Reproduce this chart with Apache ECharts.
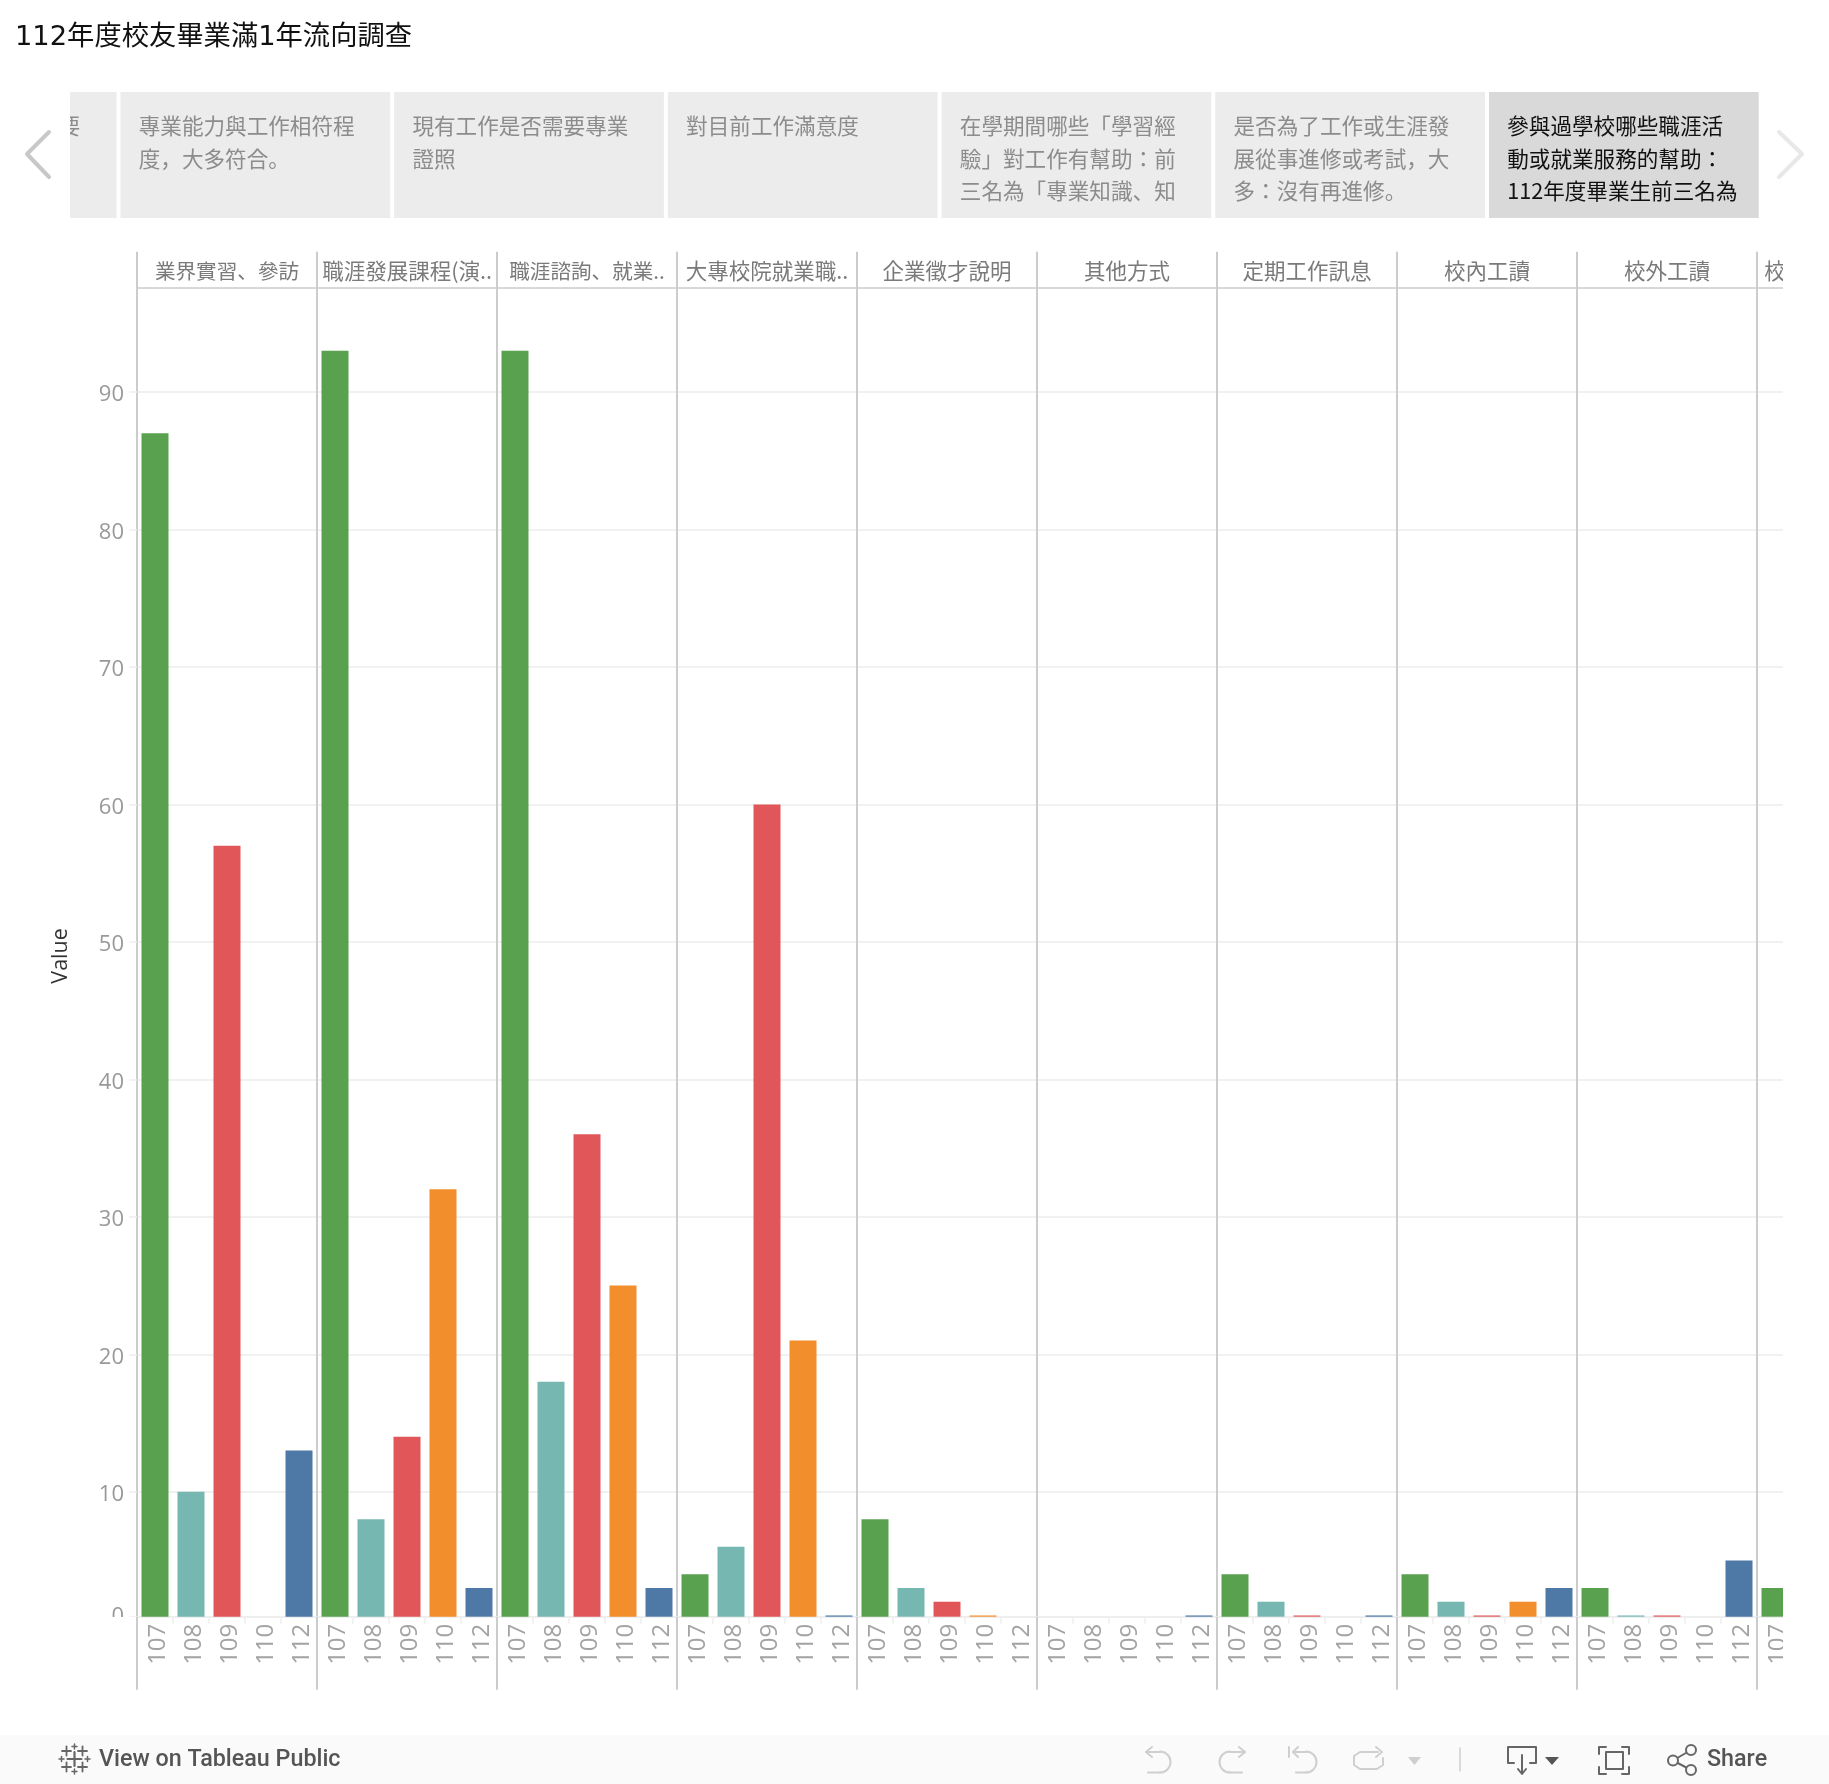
<!DOCTYPE html>
<html><head><meta charset="utf-8">
<style>html,body{margin:0;padding:0;background:#fff}#c{width:1829px;height:1784px}</style>
<script src="https://cdn.jsdelivr.net/npm/echarts@6/dist/echarts.min.js"></script>
</head><body><div id="c"></div>
<script>
const titleText = '112年度校友畢業滿1年流向調查';
const years = ['107','108','109','110','112'];
const panels = ['業界實習、參訪','職涯發展課程(演..','職涯諮詢、就業..','大專校院就業職..','企業徵才說明','其他方式','定期工作訊息','校內工讀','校外工讀','校'];
const values107 = [87,93,93,4,8,null,4,4,3,3];
const values108 = [10,8,18,6,3,null,2,2,1];
const values109 = [57,14,36,60,2,null,1,1,1];
const values110 = [null,32,25,21,1,null,null,2,null];
const values112 = [13,3,3,1,null,1,1,3,5];
const yearValues = [values107,values108,values109,values110,values112];
const yearColors = ['#59a14f','#76b7b2','#e15759','#f28e2b','#4e79a7'];
const yTicks = [10,20,30,40,50,60,70,80,90];
const tabTexts = [
 '要',
 '專業能力與工作相符程\n度，大多符合。',
 '現有工作是否需要專業\n證照',
 '對目前工作滿意度',
 '在學期間哪些「學習經\n驗」對工作有幫助：前\n三名為「專業知識、知',
 '是否為了工作或生涯發\n展從事進修或考試，大\n多：沒有再進修。',
 '參與過學校哪些職涯活\n動或就業服務的幫助：\n112年度畢業生前三名為'
];

const CJK = '"Noto Sans CJK JP","Noto Sans",sans-serif';
const LAT = '"Open Sans","Noto Sans CJK JP",sans-serif';
const yMin = 0.91, yMax = 97.55;   // the reference's pane cuts the axis just above 0

// 46 category slots: 9 full panels of 5 years, then the panel cut off by the scroll edge
const yearCats = [], headCats = [];
panels.forEach((p, i) => {
  const slots = i < panels.length - 1 ? years : years.slice(0, 1);
  slots.forEach((y, k) => {
    yearCats.push(y);
    const centre = slots.length === 1 || k === 2;
    headCats.push(centre ? p : '');
  });
});
const slotOf = (panel, yearIdx) => panel * years.length + yearIdx;
const series = years.map((y, yi) => {
  const d = new Array(yearCats.length).fill(null);
  yearValues[yi].forEach((v, p) => { d[slotOf(p, yi)] = v; });
  return {
    name: y, type: 'bar', data: d, barWidth: 27, barGap: '-100%',
    itemStyle: { color: yearColors[yi] }, clip: true, silent: true
  };
});

const isPanelEdge = i => i % years.length === 0;
const g = [];
// tabs
const tabW = 269.7, tabGap = 4, tabTop = 92, tabH = 126, tabLast = 1489;
tabTexts.forEach((t, i) => {
  const x = tabLast - (tabTexts.length - 1 - i) * (tabW + tabGap);
  const sel = i === tabTexts.length - 1;
  const first = i === 0;
  g.push({ type:'rect', z:10, shape:{x, y:tabTop, width:tabW, height:tabH}, style:{fill: sel ? '#d9d9d9' : '#ececec'} });
  g.push({ type:'text', z:11, x: first ? x+tabW-36.5 : x+18.2, y:tabTop+18, style:{ text:t, align: first ? 'right' : 'left', fill: sel ? '#111' : '#8c8c8c', font:'21.6px '+CJK, lineHeight:32.5 } });
});
g.push({ type:'rect', z:12, shape:{x:0,y:tabTop,width:70,height:tabH}, style:{fill:'#fff'} });
const stroke = (c, w) => ({ stroke:c, lineWidth:w||2, fill:null, lineCap:'round', lineJoin:'round' });
const pl = (pts, c, w) => g.push({ type:'polyline', z:20, shape:{points:pts}, style:stroke(c,w) });
const arc = (cx,cy,r,a,b,c,w) => g.push({ type:'arc', z:20, shape:{cx,cy,r,startAngle:a,endAngle:b,clockwise:true}, style:stroke(c,w) });
pl([[49,132],[27,154],[49,177]], '#c8c8c8', 4);
pl([[1779,132],[1802,154],[1779,177]], '#e8e8e8', 4);
// covers that reproduce the pane clipping
g.push({ type:'rect', z:15, shape:{x:1783,y:245,width:46,height:1450}, style:{fill:'#fff'} });
g.push({ type:'rect', z:15, shape:{x:90,y:1617,width:46,height:30}, style:{fill:'#fff'} });
// footer
g.push({ type:'rect', z:10, shape:{x:0,y:1735,width:1829,height:49}, style:{fill:'#fafafa'} });
g.push({ type:'text', z:20, x:99, y:1760, style:{ text:'View on Tableau Public', fill:'#555', font:'500 23.3px Roboto,sans-serif', verticalAlign:'middle' } });
g.push({ type:'text', z:20, x:1707, y:1760, style:{ text:'Share', fill:'#555', font:'500 23.3px Roboto,sans-serif', verticalAlign:'middle' } });
const cross = (x,y,r,w) => { pl([[x-r,y],[x+r,y]],'#666',w); pl([[x,y-r],[x,y+r]],'#666',w); };
const lx = 74.5, ly = 1759;
cross(lx,ly,7,2.2);
[[-8,-8],[8,-8],[-8,8],[8,8]].forEach(o => cross(lx+o[0],ly+o[1],4.5,1.8));
[[0,-12.5],[0,12.5],[-13,0],[13,0]].forEach(o => cross(lx+o[0],ly+o[1],2.5,1.5));
const HP = Math.PI/2, off = '#cfcfcf', on = '#666';
// undo
pl([[1146,1752],[1160,1752]],off); arc(1160,1762,10.5,-HP,HP,off); pl([[1160,1772.5],[1148,1772.5]],off);
pl([[1152,1747],[1146,1752],[1152,1757]],off);
// redo
pl([[1245,1752],[1230,1752]],off); arc(1230,1762,10.5,HP,-HP,off); pl([[1230,1772.5],[1242,1772.5]],off);
pl([[1239,1747],[1245,1752],[1239,1757]],off);
// revert
pl([[1289,1747],[1289,1757]],off); pl([[1293,1752],[1306,1752]],off); arc(1306,1762,10.5,-HP,HP,off); pl([[1306,1772.5],[1296,1772.5]],off);
pl([[1298,1747],[1293,1752],[1298,1757]],off);
// refresh
pl([[1378,1752],[1360,1752],[1354,1756],[1354,1765],[1360,1769],[1377,1769],[1383,1765],[1383,1758]],off);
pl([[1376,1747],[1382,1752],[1376,1757]],off);
// triangles & divider
g.push({ type:'polygon', z:20, shape:{points:[[1408,1757],[1421,1757],[1414.5,1765]]}, style:{fill:'#cfcfcf'} });
pl([[1460,1748],[1460,1771]],off,1.5);
g.push({ type:'polygon', z:20, shape:{points:[[1545,1757],[1559,1757],[1552,1765]]}, style:{fill:'#555'} });
// download
pl([[1514,1763],[1508,1763],[1508,1747],[1536,1747],[1536,1763],[1530,1763]],on);
pl([[1522,1755],[1522,1773]],on); pl([[1518,1769],[1522,1774],[1526,1769]],on);
// fullscreen
pl([[1606,1747],[1599,1747],[1599,1754]],on); pl([[1622,1747],[1629,1747],[1629,1754]],on);
pl([[1606,1774],[1599,1774],[1599,1767]],on); pl([[1622,1774],[1629,1774],[1629,1767]],on);
g.push({ type:'rect', z:20, shape:{x:1606,y:1752,width:17,height:17}, style:stroke(on,2) });
// share
pl([[1691,1750],[1673,1760.5],[1691,1770]],on);
[[1673,1760.5],[1691,1750],[1691,1770]].forEach(c => g.push({ type:'circle', z:21, shape:{cx:c[0],cy:c[1],r:5}, style:{fill:'#fafafa',stroke:on,lineWidth:2} }));

const option = {
  animation: false,
  backgroundColor: '#fff',
  title: { text: titleText, left: 15, top: 24.5, padding: 0, textStyle: { color:'#111', fontWeight:'normal', fontSize:27.3, fontFamily:'"DejaVu Sans","Noto Sans CJK JP",sans-serif' } },
  grid: { left: 137, top: 288.2, width: 1656, height: 1328.5, containLabel:false },
  xAxis: [
    { type:'category', position:'bottom', data: yearCats,
      axisLine:{ show:true, onZero:false, lineStyle:{ color:'#eeeeee', width:2 } },
      axisTick:{ show:true, length:7, interval:0, lineStyle:{ color:'#eeeeee', width:1.5 } },
      axisLabel:{ show:true, interval:0, rotate:90, margin:7, color:'#999', fontSize:24, fontFamily:LAT, hideOverlap:false,
        formatter:v => '{a|'+v+'}', rich:{ a:{ color:'#a3a3a3', fontSize:24, fontFamily:LAT, padding:[7,0,0,0] } } },
      splitLine:{ show:true, interval:isPanelEdge, lineStyle:{ color:'#cccccc', width:2 } } },
    { type:'category', position:'top', data: headCats,
      axisLine:{ show:true, onZero:false, lineStyle:{ color:'#cccccc', width:1.5 } },
      axisTick:{ show:true, length:36.5, interval:isPanelEdge, lineStyle:{ color:'#cccccc', width:2 } },
      axisLabel:{ show:true, interval:(i,v)=>v!=='', margin:7, color:'#7a7a7a', fontSize:21.5, fontFamily:CJK, hideOverlap:false,
        formatter:v => v.indexOf('、') >= 0 ? '{n|'+v+'}' : v, rich:{ n:{ color:'#7a7a7a', fontSize:20.6, fontFamily:CJK } } } },
    { type:'category', position:'bottom', data: yearCats,
      axisLine:{ show:false, onZero:false },
      axisTick:{ show:true, length:73, interval:isPanelEdge, lineStyle:{ color:'#cccccc', width:2 } },
      axisLabel:{ show:false } }
  ],
  yAxis: {
    type:'value', min:yMin, max:yMax,
    name:'Value', nameLocation:'middle', nameGap:65,
    nameTextStyle:{ color:'#333', fontSize:21.5, fontFamily:LAT, padding:[0,7,0,0] },
    axisLine:{ show:false },
    axisTick:{ show:true, length:8, customValues:[yMin].concat(yTicks), lineStyle:{ color:'#eeeeee', width:1.5 } },
    axisLabel:{ show:true, margin:13, color:'#999', fontSize:22, fontFamily:LAT,
      customValues:[yMin].concat(yTicks), formatter:v => v < 1 ? '{z|0}' : '{a|'+Math.round(v)+'}',
      rich:{ a:{ color:'#999', fontSize:22, fontFamily:LAT, padding:[6,0,0,0] },
             z:{ color:'#999', fontSize:22, fontFamily:LAT } } },
    splitLine:{ show:true, lineStyle:{ color:'#f1f1f1', width:2 } }
  },
  series,
  graphic: { elements: g }
};
const chart = echarts.init(document.getElementById('c'), null, { renderer:'canvas' });
chart.setOption(option);
</script></body></html>
